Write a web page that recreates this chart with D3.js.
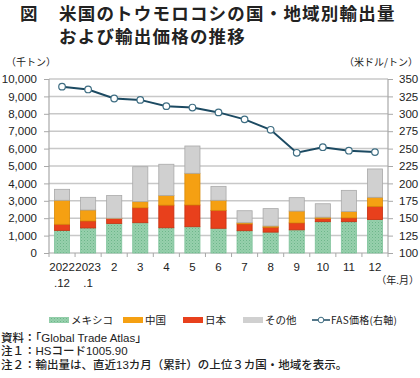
<!DOCTYPE html>
<html>
<head>
<meta charset="utf-8">
<script src="https://cdn.jsdelivr.net/npm/d3@7"></script>
<style>
  body { margin: 0; background: #fff; }
  svg text { font-family: "Noto Sans CJK JP", "Liberation Sans", sans-serif; fill: #222; }
</style>
</head>
<body>
<script>
// month labels (two lines)
var months = ["2022.12", "2023.1", "2", "3", "4", "5", "6", "7", "8", "9", "10", "11", "12"];
var labelTop = ["2022", "2023", "2", "3", "4", "5", "6", "7", "8", "9", "10", "11", "12"];
var labelBottom = [".12", ".1", "", "", "", "", "", "", "", "", "", "", ""];

// export volume, thousand tonnes
var mexico = [1300, 1440, 1700, 1740, 1450, 1510, 1420, 1280, 1200, 1330, 1800, 1800, 1920];
var japan  = [350, 400, 280, 860, 1300, 1250, 1030, 390, 280, 400, 170, 220, 760];
var china  = [1380, 630, 20, 350, 550, 1820, 580, 70, 70, 680, 90, 360, 520];
var other  = [630, 730, 1300, 2010, 1800, 1570, 800, 690, 1000, 770, 770, 1220, 1630];

// FAS price, USD per tonne
var price = [339, 335, 322, 320, 311, 309, 302, 292, 277, 244, 252, 247, 245];

var leftTicks = d3.range(0, 10001, 1000);
var rightTicks = d3.range(100, 351, 25);

var svgWidth = 420, svgHeight = 378;
var plot = { left: 49, right: 388, top: 79, bottom: 253 };

var svg = d3.select("body").append("svg")
  .attr("width", svgWidth)
  .attr("height", svgHeight);

// dotted fill for Mexico
var defs = svg.append("defs");
var pat = defs.append("pattern")
  .attr("id", "dots")
  .attr("width", 3).attr("height", 3)
  .attr("patternUnits", "userSpaceOnUse");
pat.append("rect").attr("width", 3).attr("height", 3).attr("fill", "#97d0ac");
pat.append("rect").attr("x", 0).attr("y", 0).attr("width", 1).attr("height", 1).attr("fill", "#6db68b");
pat.append("rect").attr("x", 1.5).attr("y", 1.5).attr("width", 1).attr("height", 1).attr("fill", "#7fc39b");

// title
svg.append("text").attr("x", 20).attr("y", 20)
  .style("font-size", "17.5px").style("font-weight", "bold").text("図");
svg.append("text").attr("x", 59).attr("y", 20)
  .style("font-size", "17.5px").style("font-weight", "bold").style("letter-spacing", "1.2px")
  .text("米国のトウモロコシの国・地域別輸出量");
svg.append("text").attr("x", 59).attr("y", 43)
  .style("font-size", "17.5px").style("font-weight", "bold").style("letter-spacing", "1.2px")
  .text("および輸出価格の推移");

// unit labels
svg.append("text").attr("x", 6).attr("y", 66).style("font-size", "10px").text("（千トン）");
svg.append("text").attr("x", 418).attr("y", 66).attr("text-anchor", "end")
  .style("font-size", "10px").text("（米ドル/トン）");

var x = d3.scaleBand().domain(months).range([plot.left, plot.right]).padding(0);
var yLeft = d3.scaleLinear().domain([0, 10000]).range([plot.bottom, plot.top]);
var yRight = d3.scaleLinear().domain([100, 350]).range([plot.bottom, plot.top]);

// gridlines
svg.append("g").selectAll("line")
  .data(leftTicks.slice(1))
  .enter().append("line")
  .attr("x1", plot.left).attr("x2", plot.right)
  .attr("y1", d => yLeft(d)).attr("y2", d => yLeft(d))
  .attr("stroke", "#c8c8c8").attr("stroke-width", 1.5);

// left axis
var leftAxis = d3.axisLeft(yLeft).tickValues(leftTicks).tickSize(5).tickPadding(7)
  .tickFormat(d3.format(","));
var gl = svg.append("g").attr("transform", `translate(${plot.left},0)`).call(leftAxis);
gl.select(".domain").remove();
gl.selectAll("line").attr("stroke", "#a8a8a8");
gl.selectAll("text").style("font-size", "11.5px").style("font-family", "'Liberation Sans', sans-serif");
svg.append("line").attr("x1", plot.left).attr("x2", plot.left)
  .attr("y1", plot.top).attr("y2", plot.bottom).attr("stroke", "#a8a8a8").attr("stroke-width", 1.2);

// right axis
var rightAxis = d3.axisRight(yRight).tickValues(rightTicks).tickSize(5).tickPadding(6);
var gr = svg.append("g").attr("transform", `translate(${plot.right},0)`).call(rightAxis);
gr.select(".domain").remove();
gr.selectAll("line").attr("stroke", "#a8a8a8");
gr.selectAll("text").style("font-size", "11.5px").style("font-family", "'Liberation Sans', sans-serif");
svg.append("line").attr("x1", plot.right).attr("x2", plot.right)
  .attr("y1", plot.top).attr("y2", plot.bottom).attr("stroke", "#a8a8a8").attr("stroke-width", 1.2);

// bottom axis
svg.append("line").attr("x1", plot.left).attr("x2", plot.right)
  .attr("y1", plot.bottom).attr("y2", plot.bottom).attr("stroke", "#a8a8a8").attr("stroke-width", 1.2);
svg.append("g").selectAll("line")
  .data(months.concat(["end"]))
  .enter().append("line")
  .attr("x1", (d, i) => plot.left + i * x.bandwidth())
  .attr("x2", (d, i) => plot.left + i * x.bandwidth())
  .attr("y1", plot.bottom).attr("y2", plot.bottom + 4)
  .attr("stroke", "#a8a8a8");

svg.append("g").selectAll("text")
  .data(months).enter().append("text")
  .attr("x", d => x(d) + x.bandwidth() / 2)
  .attr("y", 271)
  .attr("text-anchor", "middle")
  .style("font-size", "11.5px").style("font-family", "'Liberation Sans', sans-serif")
  .text((d, i) => labelTop[i]);
svg.append("g").selectAll("text")
  .data(months).enter().append("text")
  .attr("x", d => x(d) + x.bandwidth() / 2)
  .attr("y", 287)
  .attr("text-anchor", "middle")
  .style("font-size", "11.5px").style("font-family", "'Liberation Sans', sans-serif")
  .text((d, i) => labelBottom[i]);
svg.append("text").attr("x", 419).attr("y", 284).attr("text-anchor", "end")
  .style("font-size", "10px").text("（年.月）");

// stacked bars
var table = months.map((m, i) => ({ month: m, mexico: mexico[i], japan: japan[i], china: china[i], other: other[i] }));
var keys = ["mexico", "japan", "china", "other"];
var fills = { mexico: "url(#dots)", japan: "#e8401c", china: "#f5a012", other: "#d0d0d0" };
var strokes = { mexico: "#7fc39b", japan: "#c8300f", china: "#d98a08", other: "#a9a9a9" };
var stack = d3.stack().keys(keys)(table);
var barW = x.bandwidth() * 0.58;

svg.append("g").selectAll("g")
  .data(stack).enter().append("g")
  .each(function(layer) {
    d3.select(this).selectAll("rect")
      .data(layer).enter().append("rect")
      .attr("x", d => x(d.data.month) + (x.bandwidth() - barW) / 2)
      .attr("y", d => yLeft(d[1]))
      .attr("width", barW)
      .attr("height", d => yLeft(d[0]) - yLeft(d[1]))
      .attr("fill", fills[layer.key])
      .attr("stroke", strokes[layer.key])
      .attr("stroke-width", 0.8);
  });

// price line
var line = d3.line()
  .x((d, i) => x(months[i]) + x.bandwidth() / 2)
  .y(d => yRight(d));
svg.append("path").datum(price)
  .attr("d", line)
  .attr("fill", "none")
  .attr("stroke", "#1c4a62")
  .attr("stroke-width", 2);
svg.append("g").selectAll("circle")
  .data(price).enter().append("circle")
  .attr("cx", (d, i) => x(months[i]) + x.bandwidth() / 2)
  .attr("cy", d => yRight(d))
  .attr("r", 3.3)
  .attr("fill", "#fff")
  .attr("stroke", "#3e6d82")
  .attr("stroke-width", 1.2);

// legend
var legendY = 320;
var legend = [
  { label: "メキシコ", fill: "url(#dots)", x: 49 },
  { label: "中国", fill: "#f5a012", x: 123 },
  { label: "日本", fill: "#e8401c", x: 183 },
  { label: "その他", fill: "#d0d0d0", x: 243 }
];
var lg = svg.append("g");
legend.forEach(function(d) {
  lg.append("rect").attr("x", d.x).attr("y", legendY - 3).attr("width", 20).attr("height", 6).attr("fill", d.fill);
  lg.append("text").attr("x", d.x + 22).attr("y", legendY + 4).style("font-size", "10.5px").text(d.label);
});
lg.append("line").attr("x1", 312).attr("x2", 330).attr("y1", legendY).attr("y2", legendY)
  .attr("stroke", "#1c4a62").attr("stroke-width", 1.5);
lg.append("circle").attr("cx", 321).attr("cy", legendY).attr("r", 2.8)
  .attr("fill", "#fff").attr("stroke", "#3e6d82").attr("stroke-width", 1);
lg.append("text").attr("x", 331).attr("y", legendY + 4).style("font-size", "10px")
  .attr("textLength", 66).text("FAS価格(右軸)");

// notes
var notes = ["資料：「Global Trade Atlas」", "注１：HSコード1005.90", "注２：輸出量は、直近13カ月（累計）の上位３カ国・地域を表示。"];
svg.append("g").selectAll("text")
  .data(notes).enter().append("text")
  .attr("x", 1)
  .attr("y", (d, i) => 342 + i * 13.3)
  .style("font-size", "11.5px")
  .style("font-family", "'Liberation Sans', 'Noto Sans CJK JP', sans-serif")
  .style("font-weight", "500")
  .text(d => d);
</script>
</body>
</html>
